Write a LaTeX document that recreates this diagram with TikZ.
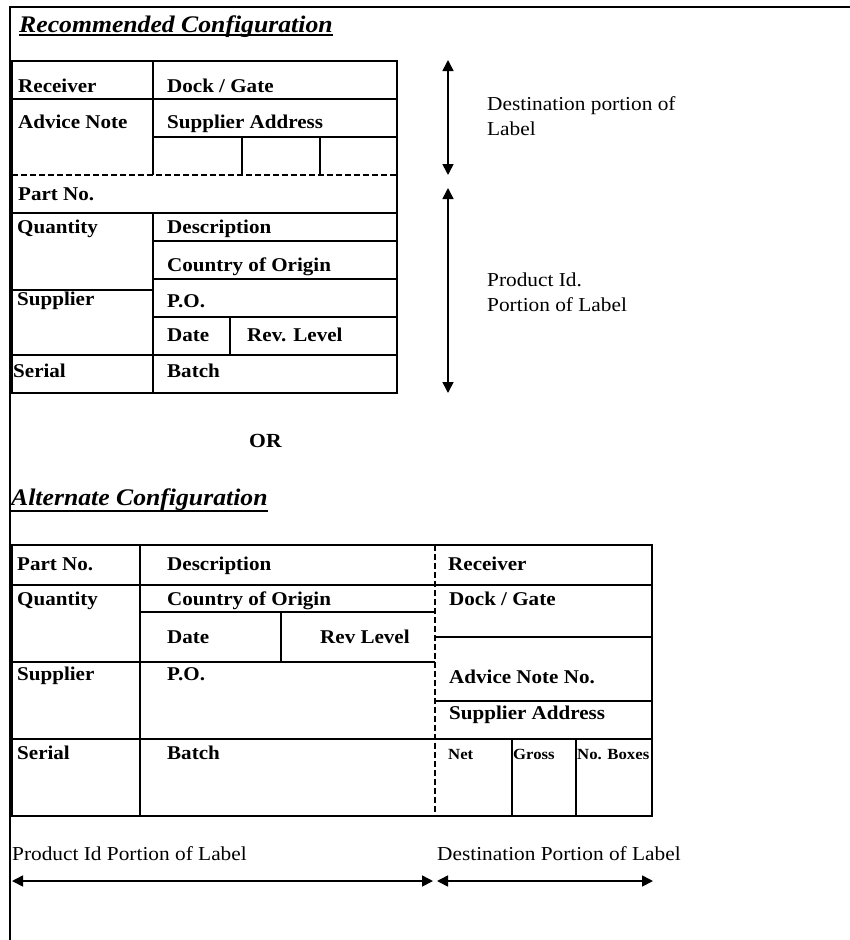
\documentclass[tikz,border=0pt]{standalone}
\usepackage{fontspec}
\setmainfont[FakeStretch=1.08]{Liberation Serif}
\usepackage{tikz}
\usetikzlibrary{arrows.meta}

\tikzstyle{frame} = [line width=2.5pt]
\tikzstyle{grid} = [line width=1.6pt]
\tikzstyle{cut} = [line width=1.6pt, dash pattern=on 6pt off 3pt]
\tikzstyle{field} = [anchor=base west, inner sep=0pt, font=\fontsize{19.5}{22}\selectfont\bfseries]
\tikzstyle{tiny} = [anchor=base west, inner sep=0pt, font=\fontsize{15.5}{18}\selectfont\bfseries]
\tikzstyle{note} = [anchor=base west, inner sep=0pt, font=\fontsize{19.75}{22}\selectfont]
\tikzstyle{heading} = [anchor=base west, inner sep=0pt, font=\fontsize{23.8}{26}\selectfont\bfseries\itshape]
\tikzstyle{span} = [<->, >={Triangle[length=11pt,width=11pt]}, line width=1.6pt]

\begin{document}
\begin{tikzpicture}[x=1pt,y=-1pt]
  \useasboundingbox (0,0) rectangle (850,940);
  \draw[frame] (850,7) -- (10,7) -- (10,940);

  % recommended configuration
  \node[heading] (R_title) at (19,32) {Recommended Configuration};
  \draw[line width=2pt] ([yshift=-3pt]R_title.base west) -- ([yshift=-3pt]R_title.base east);

  \draw[grid] (12,61) rectangle (397,393);
  \draw[grid] (12,99) -- (397,99);
  \draw[grid] (153,61) -- (153,175);
  \draw[grid] (153,137) -- (397,137);
  \draw[grid] (242,137) -- (242,175);
  \draw[grid] (320,137) -- (320,175);
  \draw[cut] (12,175) -- (397,175);
  \draw[grid] (12,213) -- (397,213);
  \draw[grid] (153,213) -- (153,393);
  \draw[grid] (153,241) -- (397,241);
  \draw[grid] (153,279) -- (397,279);
  \draw[grid] (12,290) -- (153,290);
  \draw[grid] (153,317) -- (397,317);
  \draw[grid] (230,317) -- (230,355);
  \draw[grid] (12,355) -- (397,355);

  \node[field] (R_receiver) at (18,92) {Receiver};
  \node[field] (R_dock) at (167,92) {Dock / Gate};
  \node[field] (R_advice) at (18,128) {Advice Note};
  \node[field] (R_address) at (167,128) {Supplier Address};
  \node[field] (R_part) at (18,200) {Part No.};
  \node[field] (R_quantity) at (17,233) {Quantity};
  \node[field] (R_description) at (167,233) {Description};
  \node[field] (R_country) at (167,271) {Country of Origin};
  \node[field] (R_supplier) at (17,305) {Supplier};
  \node[field] (R_po) at (167,307) {P.O.};
  \node[field] (R_date) at (167,341) {Date};
  \node[field] (R_rev) at (247,341) {Rev. Level};
  \node[field] (R_serial) at (13,377) {Serial};
  \node[field] (R_batch) at (167,377) {Batch};

  % portions, side arrows
  \coordinate (D_top) at (448,60);
  \coordinate (D_bot) at (448,175);
  \coordinate (P_top) at (448,188);
  \coordinate (P_bot) at (448,393);
  \draw[span] (D_top) -- (D_bot);
  \draw[span] (P_top) -- (P_bot);
  \node[note] (D_side1) at (487,110) {Destination portion of};
  \node[note] (D_side2) at (487,135) {Label};
  \node[note] (P_side1) at (487,286) {Product Id.};
  \node[note] (P_side2) at (487,311) {Portion of Label};

  \node[field, font=\fontsize{20}{22}\selectfont\bfseries] (or) at (249,447) {OR};

  % alternate configuration
  \node[heading] (A_title) at (11,505) {Alternate Configuration};
  \draw[line width=2pt] ([yshift=-6pt]A_title.base west) -- ([yshift=-6pt]A_title.base east);

  \draw[grid] (12,545) rectangle (652,816);
  \draw[grid] (140,545) -- (140,816);
  \draw[grid] (12,585) -- (652,585);
  \draw[grid] (140,612) -- (435,612);
  \draw[grid] (281,612) -- (281,662);
  \draw[grid] (12,662) -- (435,662);
  \draw[grid] (12,739) -- (652,739);
  \draw[grid] (435,637) -- (652,637);
  \draw[grid] (435,701) -- (652,701);
  \draw[grid] (512,739) -- (512,816);
  \draw[grid] (576,739) -- (576,816);
  \draw[cut] (435,545) -- (435,816);

  \node[field] (A_part) at (17,570) {Part No.};
  \node[field] (A_description) at (167,570) {Description};
  \node[field] (A_receiver) at (448,570) {Receiver};
  \node[field] (A_quantity) at (17,605) {Quantity};
  \node[field] (A_country) at (167,605) {Country of Origin};
  \node[field] (A_dock) at (449,605) {Dock / Gate};
  \node[field] (A_date) at (167,643) {Date};
  \node[field] (A_rev) at (320,643) {Rev Level};
  \node[field] (A_supplier) at (17,680) {Supplier};
  \node[field] (A_po) at (167,680) {P.O.};
  \node[field] (A_advice) at (449,683) {Advice Note No.};
  \node[field] (A_address) at (449,719) {Supplier Address};
  \node[field] (A_serial) at (17,759) {Serial};
  \node[field] (A_batch) at (167,759) {Batch};
  \node[tiny] (A_net) at (448,759) {Net};
  \node[tiny] (A_gross) at (513,759) {Gross};
  \node[tiny] (A_boxes) at (577,759) {No. Boxes};

  % portions, bottom arrows
  \node[note] (P_text) at (12,860) {Product Id Portion of Label};
  \node[note] (D_text) at (437,860) {Destination Portion of Label};
  \coordinate (P_left) at (12,881);
  \coordinate (P_right) at (433,881);
  \coordinate (D_left) at (437,881);
  \coordinate (D_right) at (653,881);
  \draw[span] (P_left) -- (P_right);
  \draw[span] (D_left) -- (D_right);
\end{tikzpicture}
\end{document}
